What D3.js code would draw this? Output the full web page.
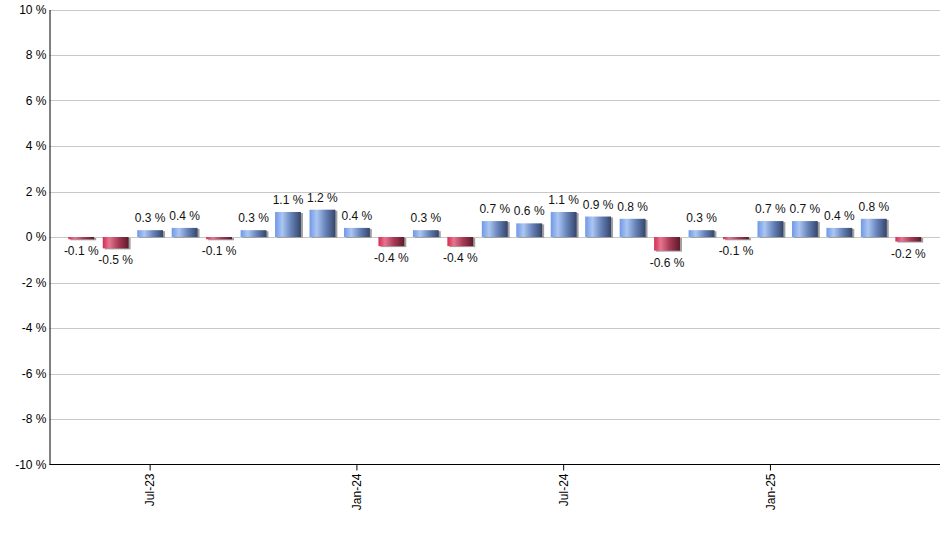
<!DOCTYPE html>
<html>
<head>
<meta charset="utf-8">
<script src="https://cdn.jsdelivr.net/npm/d3@7"></script>
<style>
  body { margin: 0; background: #fff; }
  svg { display: block; font-family: "Liberation Sans", Arial, sans-serif; }
</style>
</head>
<body>
<div id="chart"></div>
<script>
// monthly change, May-23 .. May-25
const months = ["May-23", "Jun-23", "Jul-23", "Aug-23", "Sep-23", "Oct-23", "Nov-23", "Dec-23",
  "Jan-24", "Feb-24", "Mar-24", "Apr-24", "May-24", "Jun-24", "Jul-24", "Aug-24", "Sep-24",
  "Oct-24", "Nov-24", "Dec-24", "Jan-25", "Feb-25", "Mar-25", "Apr-25", "May-25"];
const values = [-0.1, -0.5, 0.3, 0.4, -0.1, 0.3, 1.1, 1.2, 0.4, -0.4, 0.3, -0.4, 0.7, 0.6,
  1.1, 0.9, 0.8, -0.6, 0.3, -0.1, 0.7, 0.7, 0.4, 0.8, -0.2];
const tickLabels = ["Jul-23", "Jan-24", "Jul-24", "Jan-25"];
const yTicks = [-10, -8, -6, -4, -2, 0, 2, 4, 6, 8, 10];

const width = 940, height = 550;
const plot = { left: 49.5, right: 940, top: 9.5, bottom: 464.5 };

const svg = d3.select("#chart").append("svg")
  .attr("width", width)
  .attr("height", height);

const defs = svg.append("defs");
function addGradient(id, stops) {
  const g = defs.append("linearGradient")
    .attr("id", id)
    .attr("x1", "0%").attr("x2", "100%")
    .attr("y1", "0%").attr("y2", "0%");
  stops.forEach(s => g.append("stop").attr("offset", s[0]).attr("stop-color", s[1]));
}
addGradient("blueGrad", [["0%", "#6f98e6"], ["28%", "#abc6f2"], ["60%", "#6a86bd"], ["100%", "#34456a"]]);
addGradient("redGrad", [["0%", "#d42c50"], ["25%", "#e77590"], ["60%", "#a83a55"], ["100%", "#5e1a2a"]]);

const y = d3.scaleLinear().domain([-10, 10]).range([plot.bottom, plot.top]);
const x = d3.scaleBand().domain(months).range([64, 925.5]).paddingInner(0.25).paddingOuter(0.125);

// grid
svg.append("g").selectAll("line")
  .data(yTicks.filter(d => d !== -10))
  .join("line")
  .attr("x1", plot.left).attr("x2", plot.right)
  .attr("y1", d => Math.round(y(d)) + 0.5).attr("y2", d => Math.round(y(d)) + 0.5)
  .attr("stroke", "#c8c8c8");

// y axis
const yAxis = svg.append("g")
  .attr("transform", `translate(${plot.left},0)`)
  .call(d3.axisLeft(y).tickValues(yTicks).tickSize(0).tickPadding(3).tickFormat(d => d + " %"));
yAxis.select(".domain").attr("stroke", "#000");
yAxis.selectAll("text").style("font-size", "12px").attr("fill", "#000");

// bars with shadow
const bars = svg.append("g");
bars.selectAll("rect.shadow")
  .data(values)
  .join("rect")
  .attr("class", "shadow")
  .attr("x", (d, i) => x(months[i]) + 2)
  .attr("y", d => Math.min(y(d), y(0)) + 1)
  .attr("width", x.bandwidth())
  .attr("height", d => Math.abs(y(d) - y(0)))
  .attr("fill", "#a0a0a0");
bars.selectAll("rect.bar")
  .data(values)
  .join("rect")
  .attr("class", "bar")
  .attr("x", (d, i) => x(months[i]))
  .attr("y", d => Math.min(y(d), y(0)))
  .attr("width", x.bandwidth())
  .attr("height", d => Math.abs(y(d) - y(0)))
  .attr("fill", d => d >= 0 ? "url(#blueGrad)" : "url(#redGrad)");

// value labels
svg.append("g").selectAll("text")
  .data(values)
  .join("text")
  .attr("x", (d, i) => x(months[i]) + x.bandwidth() / 2)
  .attr("y", d => d >= 0 ? y(d) - 8 : y(d) + 16)
  .attr("text-anchor", "middle")
  .style("font-size", "12px")
  .attr("fill", "#111")
  .text(d => d.toFixed(1) + " %");

// x axis
const xAxis = svg.append("g")
  .attr("transform", `translate(0,${plot.bottom})`)
  .call(d3.axisBottom(x).tickValues(tickLabels).tickSize(6).tickPadding(2));
xAxis.select(".domain").attr("d", `M${plot.left},0H${plot.right}`).attr("stroke", "#000");
xAxis.selectAll(".tick line").attr("stroke", "#000");
xAxis.selectAll("text")
  .style("font-size", "12px")
  .attr("fill", "#000")
  .attr("transform", "rotate(-90)")
  .attr("text-anchor", "end")
  .attr("x", -9)
  .attr("y", 0)
  .attr("dy", "0.35em");
</script>
</body>
</html>
